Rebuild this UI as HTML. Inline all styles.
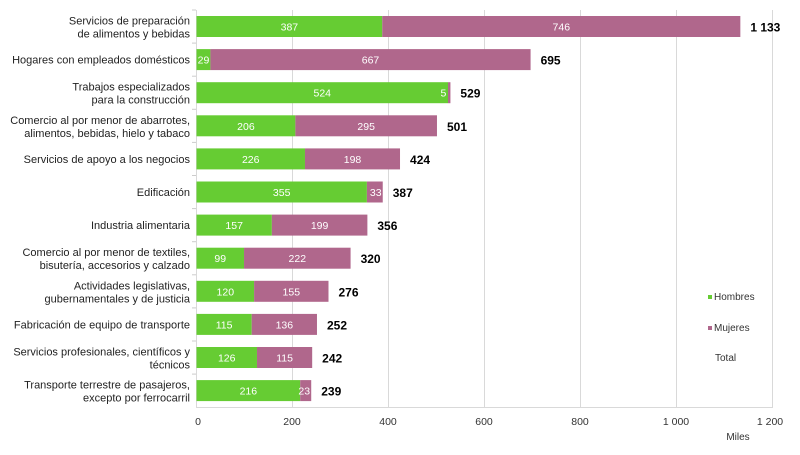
<!DOCTYPE html>
<html><head><meta charset="utf-8"><style>
body{margin:0;background:#fff;}
svg{font-family:"Liberation Sans",sans-serif;}
</style></head><body>
<svg width="800" height="450" xmlns="http://www.w3.org/2000/svg">
<g stroke="#d9d9d9" stroke-width="1">
<line x1="292.5" y1="10" x2="292.5" y2="407"/>
<line x1="388.5" y1="10" x2="388.5" y2="407"/>
<line x1="484.5" y1="10" x2="484.5" y2="407"/>
<line x1="580.5" y1="10" x2="580.5" y2="407"/>
<line x1="676.5" y1="10" x2="676.5" y2="407"/>
<line x1="772.5" y1="10" x2="772.5" y2="407"/>
<line x1="196.5" y1="10" x2="196.5" y2="407"/>
<line x1="196" y1="407.5" x2="773" y2="407.5"/>
</g>
<g id="bars" font-size="10.5" fill="#fff" text-anchor="middle"></g>
<g id="labels" font-size="11" fill="#222" text-anchor="end"></g>
<g font-size="10.5" fill="#333" text-anchor="middle">
<text x="198" y="425">0</text><text x="292" y="425">200</text><text x="388" y="425">400</text><text x="484" y="425">600</text><text x="580" y="425">800</text><text x="676" y="425">1 000</text><text x="770" y="425">1 200</text>
<text x="738" y="440" font-size="10">Miles</text>
</g>
<g font-size="10" fill="#333">
<rect x="708" y="295" width="4" height="4" fill="#66cc33"/><text x="714" y="300">Hombres</text>
<rect x="708" y="326" width="4" height="4" fill="#b0678c"/><text x="714" y="331">Mujeres</text>
<text x="715" y="361">Total</text>
</g>
<script>
var d=[["Servicios de preparación|de alimentos y bebidas",387,746,"1 133"],["Hogares con empleados domésticos",29,667,"695"],["Trabajos especializados|para la construcción",524,5,"529"],["Comercio al por menor de abarrotes,|alimentos, bebidas, hielo y tabaco",206,295,"501"],["Servicios de apoyo a los negocios",226,198,"424"],["Edificación",355,33,"387"],["Industria alimentaria",157,199,"356"],["Comercio al por menor de textiles,|bisutería, accesorios y calzado",99,222,"320"],["Actividades legislativas,|gubernamentales y de justicia",120,155,"276"],["Fabricación de equipo de transporte",115,136,"252"],["Servicios profesionales, científicos y|técnicos",126,115,"242"],["Transporte terrestre de pasajeros,|excepto por ferrocarril",216,23,"239"]];
var s=0.48,x0=196.5,ns="http://www.w3.org/2000/svg",b=document.getElementById("bars"),l=document.getElementById("labels");
function el(p,t,a,txt){var e=document.createElementNS(ns,t);for(var k in a)e.setAttribute(k,a[k]);if(txt!=null)e.textContent=txt;p.appendChild(e);return e;}
d.forEach(function(r,i){var c=26.5+33.1*i,h=r[1]*s,m=r[2]*s;
el(b,"rect",{x:x0,y:c-10.5,width:h,height:21,fill:"#66cc33"});
el(b,"rect",{x:x0+h,y:c-10.5,width:m,height:21,fill:"#b0678c"});
var gx=r[1]<40?x0+7:x0+h/2; el(b,"text",{x:gx,y:c+4},r[1]);
var mx=r[2]<40?x0+h+m-7:x0+h+m/2; el(b,"text",{x:mx,y:c+4},r[2]);
el(b,"text",{x:x0+h+m+10,y:c+5,fill:"#000","font-size":"12","font-weight":"bold","text-anchor":"start"},r[3]);
el(b,"line",{x1:192,x2:196,y1:c-16.5,y2:c-16.5,stroke:"#ccc"});
var ls=r[0].split("|");
if(ls.length==1)el(l,"text",{x:190,y:c+4},ls[0]);
else{el(l,"text",{x:190,y:c-2},ls[0]);el(l,"text",{x:190,y:c+11},ls[1]);}
});
</script>
</svg>
</body></html>
